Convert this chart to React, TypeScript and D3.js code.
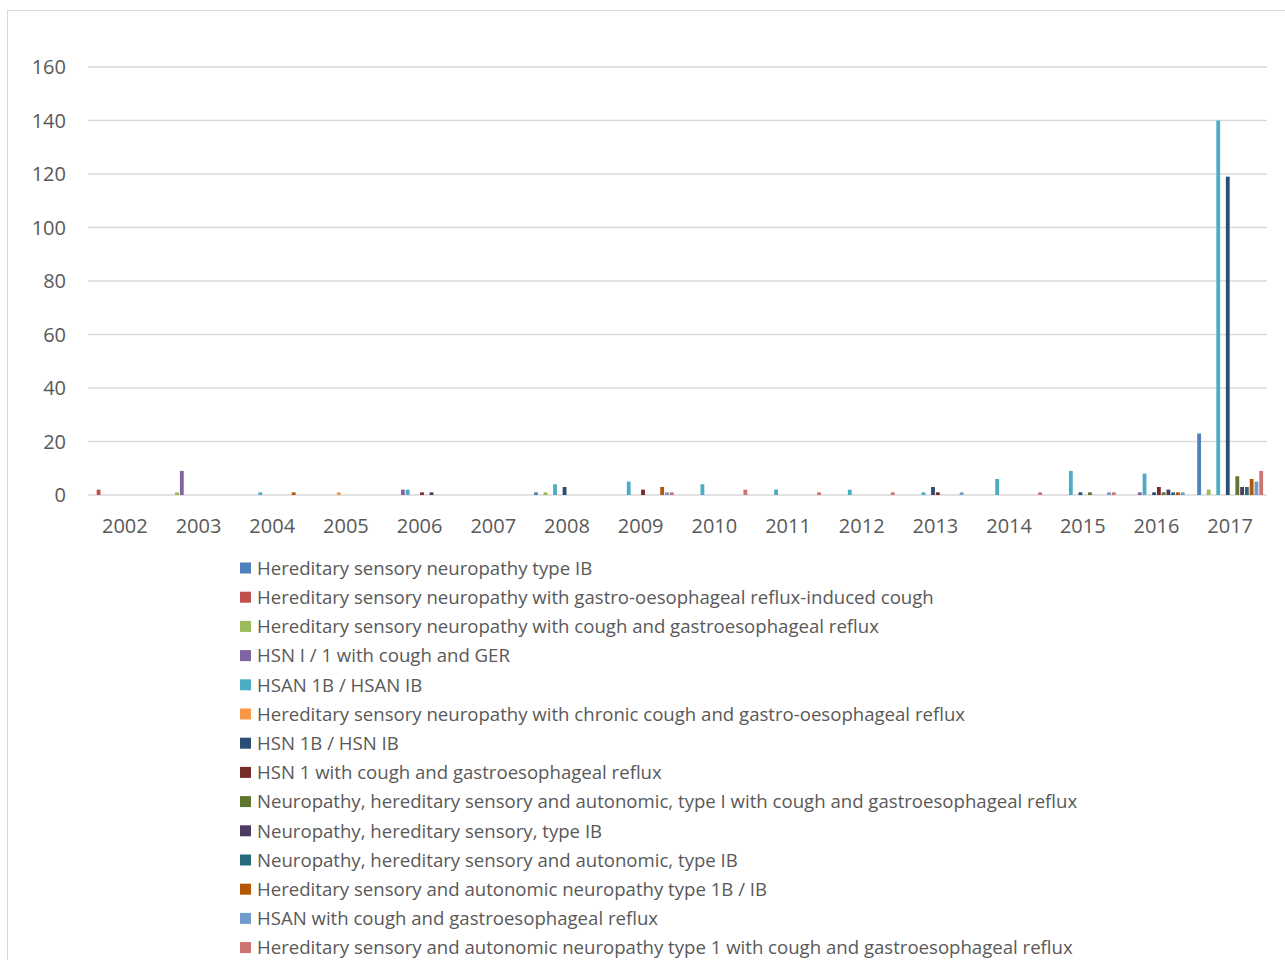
import React from 'react';
import * as d3 from 'd3';

const years = ['2002', '2003', '2004', '2005', '2006', '2007', '2008', '2009', '2010', '2011', '2012', '2013', '2014', '2015', '2016', '2017'];

const seriesNames = [
  'Hereditary sensory neuropathy type IB',
  'Hereditary sensory neuropathy with gastro-oesophageal reflux-induced cough',
  'Hereditary sensory neuropathy with cough and gastroesophageal reflux',
  'HSN I / 1 with cough and GER',
  'HSAN 1B / HSAN IB',
  'Hereditary sensory neuropathy with chronic cough and gastro-oesophageal reflux',
  'HSN 1B / HSN IB',
  'HSN 1 with cough and gastroesophageal reflux',
  'Neuropathy, hereditary sensory and autonomic, type I with cough and gastroesophageal reflux',
  'Neuropathy, hereditary sensory, type IB',
  'Neuropathy, hereditary sensory and autonomic, type IB',
  'Hereditary sensory and autonomic neuropathy type 1B / IB',
  'HSAN with cough and gastroesophageal reflux',
  'Hereditary sensory and autonomic neuropathy type 1 with cough and gastroesophageal reflux',
];

const colors = ['#4F81BD', '#C0504D', '#9BBB59', '#8064A2', '#4BACC6', '#F79646', '#2C4D75', '#772C2A', '#5F7530', '#4D3B62', '#276A7C', '#B65708', '#729ACA', '#CD7371'];

// one value per year, 2002..2017
const s1 = [0, 0, 0, 0, 0, 0, 1, 0, 0, 0, 0, 0, 0, 0, 0, 23];
const s2 = [2, 0, 0, 0, 0, 0, 0, 0, 0, 0, 0, 0, 0, 0, 0, 0];
const s3 = [0, 1, 0, 0, 0, 0, 1, 0, 0, 0, 0, 0, 0, 0, 0, 2];
const s4 = [0, 9, 0, 0, 2, 0, 0, 0, 0, 0, 0, 0, 0, 0, 1, 0];
const s5 = [0, 0, 1, 0, 2, 0, 4, 5, 4, 2, 2, 1, 6, 9, 8, 140];
const s6 = [0, 0, 0, 1, 0, 0, 0, 0, 0, 0, 0, 0, 0, 0, 0, 0];
const s7 = [0, 0, 0, 0, 0, 0, 3, 0, 0, 0, 0, 3, 0, 1, 1, 119];
const s8 = [0, 0, 0, 0, 1, 0, 0, 2, 0, 0, 0, 1, 0, 0, 3, 0];
const s9 = [0, 0, 0, 0, 0, 0, 0, 0, 0, 0, 0, 0, 0, 1, 1, 7];
const s10 = [0, 0, 0, 0, 1, 0, 0, 0, 0, 0, 0, 0, 0, 0, 2, 3];
const s11 = [0, 0, 0, 0, 0, 0, 0, 0, 0, 0, 0, 0, 0, 0, 1, 3];
const s12 = [0, 0, 1, 0, 0, 0, 0, 3, 0, 0, 0, 0, 0, 0, 1, 6];
const s13 = [0, 0, 0, 0, 0, 0, 0, 1, 0, 0, 0, 1, 0, 1, 1, 5];
const s14 = [0, 0, 0, 0, 0, 0, 0, 1, 2, 1, 1, 0, 1, 1, 0, 9];

const seriesValues = [s1, s2, s3, s4, s5, s6, s7, s8, s9, s10, s11, s12, s13, s14];
const yTicks = [0, 20, 40, 60, 80, 100, 120, 140, 160];

const W = 1285;
const H = 960;
const margin = { left: 88, right: 18, top: 67, bottom: 465 };
const font = '"Open Sans", "Liberation Sans", sans-serif';
const textColor = '#595959';

export default function App() {
  const x0 = d3.scaleBand<string>().domain(years).range([margin.left, W - margin.right]).padding(0);
  const edge = x0.bandwidth() * 0.053;
  const x1 = d3.scaleBand<number>()
    .domain(d3.range(seriesNames.length))
    .range([edge, x0.bandwidth() - edge])
    .paddingInner(0.2);
  const y = d3.scaleLinear().domain([0, 160]).range([H - margin.bottom, margin.top]);

  const legendX = 240;
  const legendY0 = 568;
  const legendStep = 29.2;

  return (
    <svg width={W} height={H} style={{ position: 'absolute', left: 0, top: 0, background: '#fff' }} fontFamily={font}>
      <rect x={7.5} y={10.5} width={W + 20} height={H + 20} fill="#fff" stroke="#d9d9d9" />

      {/* gridlines and y labels */}
      {yTicks.map(t => (
        <g key={t}>
          <line x1={margin.left} x2={W - margin.right} y1={y(t)} y2={y(t)} stroke="#d9d9d9" strokeWidth={1.3} />
          <text x={66} y={y(t)} dy="0.36em" textAnchor="end" fontSize={20} fill={textColor}>{t}</text>
        </g>
      ))}

      {/* bars */}
      {years.map((yr, yi) => (
        <g key={yr} transform={`translate(${x0(yr)},0)`}>
          {seriesValues.map((vals, si) => vals[yi] > 0 ? (
            <rect
              key={si}
              x={x1(si)}
              y={y(vals[yi])}
              width={x1.bandwidth()}
              height={y(0) - y(vals[yi])}
              fill={colors[si]}
            />
          ) : null)}
        </g>
      ))}

      {/* x labels */}
      {years.map(yr => (
        <text key={yr} x={(x0(yr) ?? 0) + x0.bandwidth() / 2} y={526} dy="0.36em" textAnchor="middle" fontSize={20} fill={textColor}>{yr}</text>
      ))}

      {/* legend */}
      {seriesNames.map((name, i) => (
        <g key={name} transform={`translate(${legendX},${legendY0 + i * legendStep})`}>
          <rect x={0} y={-5.5} width={11} height={11} fill={colors[i]} />
          <text x={17} y={0} dy="0.36em" fontSize={18.6} fill={textColor}>{name}</text>
        </g>
      ))}
    </svg>
  );
}
